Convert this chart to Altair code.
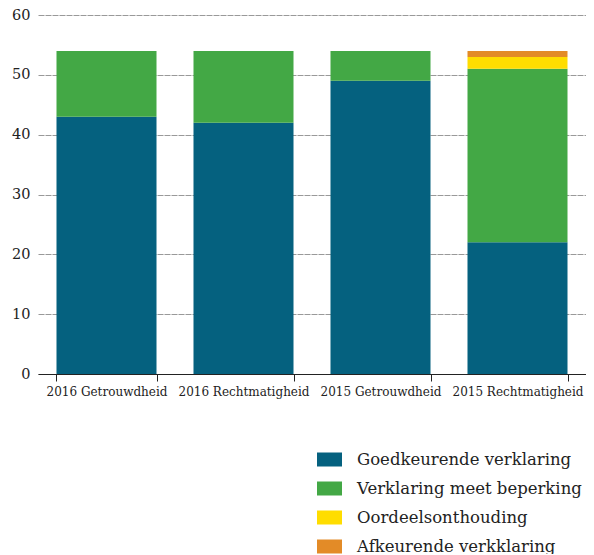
import altair as alt
import pandas as pd

categories = ["2016 Getrouwdheid", "2016 Rechtmatigheid", "2015 Getrouwdheid", "2015 Rechtmatigheid"]
series = ["Goedkeurende verklaring", "Verklaring meet beperking", "Oordeelsonthouding", "Afkeurende verkklaring"]
goedkeurend = [43, 42, 49, 22]
beperking = [11, 12, 5, 29]
onthouding = [0, 0, 0, 2]
afkeurend = [0, 0, 0, 1]
colors = ["#05617f", "#43a845", "#ffdd00", "#e38b27"]

rows = []
for i, c in enumerate(categories):
    for j, (s, vals) in enumerate(zip(series, [goedkeurend, beperking, onthouding, afkeurend])):
        rows.append({"cat": c, "serie": s, "value": vals[i], "ord": j})
df = pd.DataFrame(rows)

FONT = "DejaVu Serif"

chart = alt.Chart(df).mark_bar().encode(
    x=alt.X("cat:N", sort=categories, title=None,
            scale=alt.Scale(paddingInner=0.27, paddingOuter=0.135),
            axis=alt.Axis(labelAngle=0, tickBand="extent", domainColor="#222",
                          tickColor="#222", tickSize=7, labelFont=FONT,
                          labelFontSize=12, labelColor="#222", labelPadding=5,
                          grid=False)),
    y=alt.Y("value:Q", stack="zero", title=None,
            scale=alt.Scale(domain=[0, 60]),
            axis=alt.Axis(values=[0, 10, 20, 30, 40, 50, 60], domain=False, ticks=False,
                          labelFont=FONT, labelFontSize=14.5, labelColor="#222",
                          labelPadding=8, gridColor="#999", gridDash=[6, 1],
                          gridWidth=1)),
    color=alt.Color("serie:N", sort=series,
                    scale=alt.Scale(domain=series, range=colors),
                    legend=alt.Legend(title=None, orient="none", legendX=279, legendY=432,
                                      symbolType="M-1,-0.56L1,-0.56L1,0.56L-1,0.56Z",
                                      symbolSize=625, symbolStrokeWidth=0, symbolOpacity=1,
                                      labelFont=FONT, labelFontSize=16.5, labelColor="#222",
                                      labelOffset=15, rowPadding=8, padding=0,
                                      labelLimit=400)),
    order=alt.Order("ord:Q", sort="ascending"),
).properties(
    width=548, height=359,
    padding={"left": 30, "top": 7, "right": 0, "bottom": 180},
    autosize=alt.AutoSizeParams(type="none"),
).configure_view(stroke=None)

chart.save("out.html", embed_options={"renderer": "svg", "actions": False})
